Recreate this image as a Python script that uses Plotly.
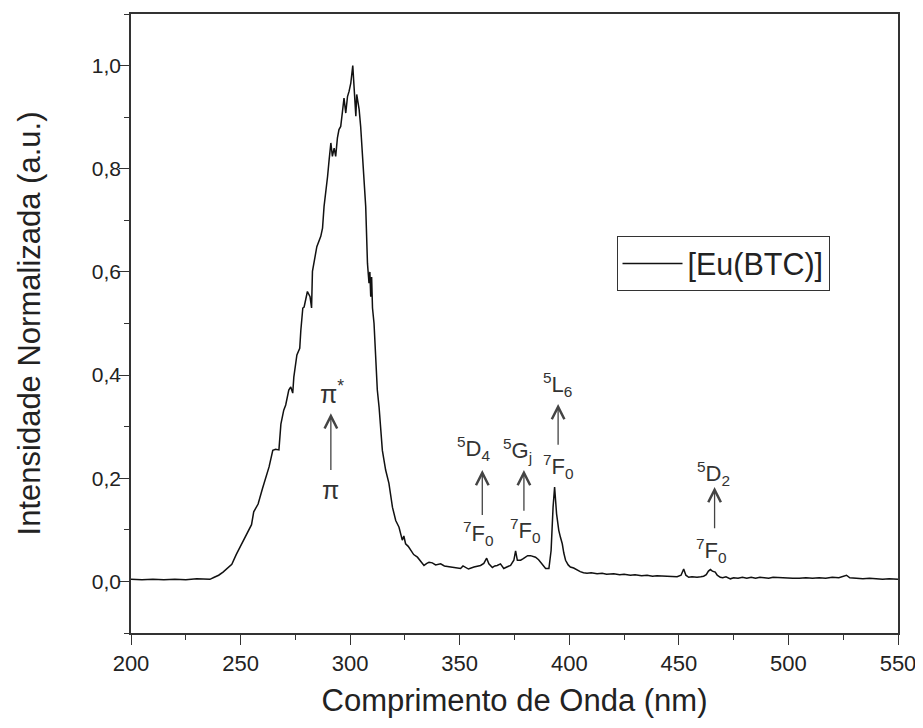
import plotly.graph_objects as go

# ---- data ----
wavelength = [
    200, 205, 210, 215, 220, 225, 230, 232, 234, 236, 238, 240, 242, 244, 246, 248,
    250, 252, 254, 255, 256, 258, 260, 261.5, 263, 264.7, 266, 267.5, 268.4, 269.7,
    270.6, 272, 272.9, 273.8, 274.3, 275.7, 277, 277.5, 278.4, 279, 280.5, 281.7,
    282.4, 282.8, 283.5, 284.8, 286.6, 287.4, 288.1, 288.9, 289.7, 290.4, 291.2,
    291.9, 292.7, 293.4, 294.2, 294.9, 295.7, 296.5, 297.2, 298.0, 298.8, 299.5,
    300.3, 301.2, 301.8, 302.6, 303.0, 304.1, 304.8, 305.6, 306.3, 307.1, 307.9,
    308.6, 309.0, 309.4, 309.8, 310.2, 310.9, 311.7, 312.4, 313.2, 313.9, 314.7,
    316.2, 317.7, 319.3, 320.8, 322.3, 323.8, 324.5, 325.3, 326.5, 327.6, 329,
    330.7, 332, 333.7, 335, 336.0, 337.5, 339, 341.3, 343, 345.9, 348, 350.4,
    351.5, 352.7, 354, 356.5, 358, 359.5, 361, 362.3, 363.3, 364.9, 366, 367.1,
    368.6, 370.1, 371.5, 373.2, 374.7, 375.5, 376.3, 377.8, 379, 380.0, 381,
    382.3, 383.5, 384.6, 386, 386.9, 388, 389.2, 390.7, 391.7, 392.6, 393.3,
    394.2, 395.2, 396.0, 396.8, 397.5, 398.3, 399.5, 400.5, 402, 403.6, 405,
    406.5, 408.1, 410, 412.7, 415, 417, 420.3, 423, 425, 427.9, 430, 433, 435.5,
    438, 440, 443.1, 446, 449.2, 451, 452.2, 453.2, 454.5, 456, 458.3, 460,
    461.3, 462.5, 463.5, 464.4, 465.3, 466.6, 467.5, 468.9, 470, 471.5, 473.5,
    475, 477, 479, 481, 483, 485, 487, 489, 491, 493, 496, 499, 502, 505, 508,
    511, 514, 517, 520, 523, 526.5, 528, 531, 534, 537, 540, 543, 546, 548, 550,
]
intensity = [
    0.004, 0.003, 0.004, 0.003, 0.004, 0.003, 0.005, 0.005, 0.004, 0.004, 0.008, 0.012,
    0.018, 0.025, 0.033, 0.052, 0.068, 0.085, 0.100, 0.110, 0.135, 0.150, 0.180, 0.200,
    0.222, 0.254, 0.256, 0.255, 0.305, 0.332, 0.342, 0.371, 0.377, 0.365, 0.396, 0.439,
    0.452, 0.487, 0.530, 0.532, 0.562, 0.552, 0.530, 0.601, 0.617, 0.649, 0.669, 0.685,
    0.727, 0.753, 0.785, 0.817, 0.850, 0.824, 0.840, 0.824, 0.860, 0.876, 0.882, 0.911,
    0.937, 0.908, 0.940, 0.950, 0.966, 1.000, 0.947, 0.902, 0.944, 0.915, 0.882, 0.824,
    0.772, 0.727, 0.617, 0.578, 0.600, 0.552, 0.590, 0.530, 0.500, 0.416, 0.371, 0.338,
    0.293, 0.254, 0.216, 0.190, 0.144, 0.118, 0.105, 0.080, 0.088, 0.073, 0.068, 0.060,
    0.052, 0.047, 0.040, 0.031, 0.035, 0.037, 0.036, 0.032, 0.034, 0.030, 0.028, 0.026,
    0.025, 0.030, 0.027, 0.024, 0.028, 0.030, 0.031, 0.035, 0.045, 0.034, 0.027, 0.030,
    0.031, 0.034, 0.025, 0.028, 0.031, 0.041, 0.059, 0.041, 0.041, 0.044, 0.047, 0.050,
    0.050, 0.049, 0.047, 0.042, 0.037, 0.030, 0.025, 0.025, 0.060, 0.144, 0.183, 0.131,
    0.099, 0.085, 0.073, 0.055, 0.041, 0.032, 0.028, 0.026, 0.022, 0.019, 0.017, 0.016,
    0.017, 0.015, 0.016, 0.014, 0.015, 0.013, 0.014, 0.012, 0.013, 0.011, 0.012, 0.010,
    0.011, 0.010, 0.009, 0.009, 0.012, 0.024, 0.012, 0.008, 0.009, 0.008, 0.009, 0.010,
    0.013, 0.020, 0.023, 0.020, 0.018, 0.012, 0.008, 0.007, 0.009, 0.005, 0.007, 0.006,
    0.008, 0.006, 0.008, 0.006, 0.008, 0.007, 0.006, 0.008, 0.007, 0.007, 0.006, 0.006,
    0.007, 0.006, 0.007, 0.006, 0.008, 0.007, 0.012, 0.007, 0.006, 0.005, 0.006, 0.005,
    0.004, 0.005, 0.004, 0.004,
]
series_name = "[Eu(BTC)]"

x_ticks = [200, 250, 300, 350, 400, 450, 500, 550]
y_ticks = [0.0, 0.2, 0.4, 0.6, 0.8, 1.0]
y_tick_labels = ["0,0", "0,2", "0,4", "0,6", "0,8", "1,0"]

# transitions: (label x, label y, text, font size) and arrows (x, tip y, tail y)
transition_labels = [
    (291.8, 0.367, "π<sup>*</sup>", 25),
    (291.2, 0.177, "π", 25),
    (356.3, 0.258, "<sup>5</sup>D<sub>4</sub>", 22),
    (358.6, 0.093, "<sup>7</sup>F<sub>0</sub>", 22),
    (376.2, 0.254, "<sup>5</sup>G<sub>j</sub>", 22),
    (380.0, 0.099, "<sup>7</sup>F<sub>0</sub>", 22),
    (394.5, 0.382, "<sup>5</sup>L<sub>6</sub>", 22),
    (395.2, 0.222, "<sup>7</sup>F<sub>0</sub>", 22),
    (465.8, 0.209, "<sup>5</sup>D<sub>2</sub>", 22),
    (465.1, 0.060, "<sup>7</sup>F<sub>0</sub>", 22),
]
arrows = [
    (291.2, 0.326, 0.212),
    (360.3, 0.216, 0.125),
    (379.3, 0.216, 0.133),
    (394.9, 0.344, 0.261),
    (466.3, 0.183, 0.099),
]

FONT = "Liberation Sans, Arial, sans-serif"
AX = "#333333"

fig = go.Figure()
fig.add_trace(go.Scatter(
    x=wavelength, y=intensity, mode="lines", name=series_name,
    line=dict(color="#111111", width=1.5), showlegend=True,
))

annotations = []
for (lx, ly, txt, fs) in transition_labels:
    annotations.append(dict(x=lx, y=ly, xref="x", yref="y", text=txt, showarrow=False,
                            font=dict(family=FONT, size=fs, color="#333333")))
for (axx, tip, tail) in arrows:
    annotations.append(dict(x=axx, y=tip, xref="x", yref="y", ax=axx, ay=tail,
                            axref="x", ayref="y", text=" ", font=dict(size=1),
                            showarrow=True, arrowhead=5, arrowsize=1.9,
                            arrowwidth=1.3, arrowcolor="#444444", standoff=0,
                            startstandoff=0))

# the page body has an 8 px margin, so the figure is sized to fill the rest
fig.update_layout(
    width=915, height=720,
    margin=dict(l=123, r=25, t=6, b=95, autoexpand=False),
    paper_bgcolor="white", plot_bgcolor="white",
    separators=",.",
    font=dict(family=FONT, color="#222222"),
    showlegend=True,
    legend=dict(x=0.633, y=0.641, xanchor="left", yanchor="top",
                bordercolor="#333333", borderwidth=1, bgcolor="white",
                font=dict(family=FONT, size=30.5, color="#222222"),
                itemwidth=60, tracegroupgap=0),
    annotations=annotations,
)
fig.update_xaxes(
    range=[200, 550], tickvals=x_ticks, ticks="outside", ticklen=10, tickwidth=1.3,
    tickcolor=AX, showline=True, linecolor=AX, linewidth=1.5, mirror=True,
    showgrid=False, zeroline=False, automargin=False,
    tickfont=dict(family=FONT, size=22, color="#222222"),
    minor=dict(dtick=25, ticks="outside", ticklen=5, tickcolor=AX, tickwidth=1.2, showgrid=False),
    title=dict(text="Comprimento de Onda (nm)", font=dict(family=FONT, size=31, color="#222222"),
               standoff=14),
)
fig.update_yaxes(
    range=[-0.1, 1.1], tickvals=y_ticks, ticktext=y_tick_labels, ticks="outside",
    ticklen=10, tickwidth=1.3, tickcolor=AX, showline=True, linecolor=AX, linewidth=1.5,
    mirror=True, showgrid=False, zeroline=False, automargin=False,
    ticklabelstandoff=-6,
    tickfont=dict(family=FONT, size=21, color="#222222"),
    minor=dict(tick0=0.1, dtick=0.2, ticks="outside", ticklen=5, tickcolor=AX, tickwidth=1.2, showgrid=False),
    title=dict(text="Intensidade Normalizada (a.u.)", font=dict(family=FONT, size=31, color="#222222"),
               standoff=42),
)

fig.write_html("out.html")
